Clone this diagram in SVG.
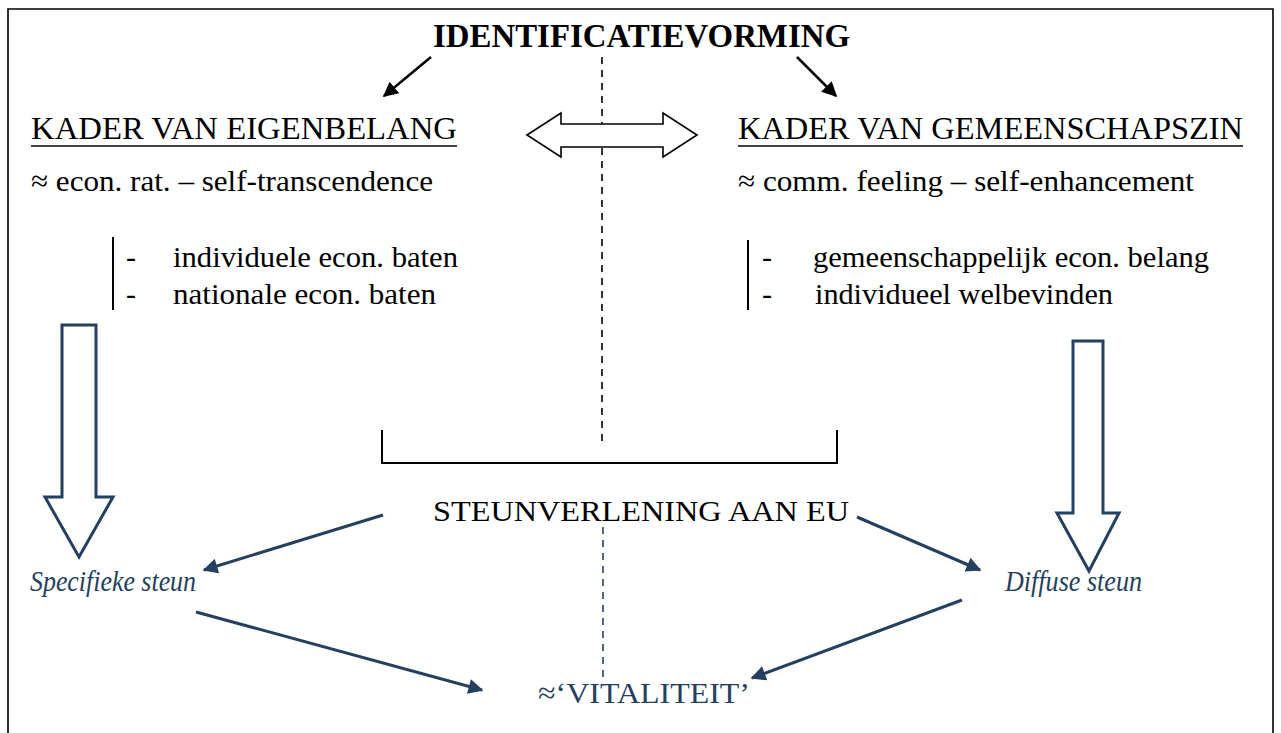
<svg xmlns="http://www.w3.org/2000/svg" width="1281" height="733" viewBox="0 0 1281 733" font-family="'Liberation Serif', 'DejaVu Serif', serif">
<defs>
<style>
text{font-family:"Liberation Serif","DejaVu Serif",serif;}
.t{font-size:30px;fill:#000;}
.h{font-size:32px;fill:#000;}
.b{font-size:33px;font-weight:bold;fill:#000;}
.blue{fill:#243F60;}
.it{font-style:italic;font-size:29px;fill:#243F60;}
.ul{stroke:#000;stroke-width:1.5;}
.bar{stroke:#000;stroke-width:2;}
.blk{stroke:#000;stroke-width:2.5;fill:none;}
.bl{stroke:#243F60;stroke-width:3;fill:none;}
.dash{stroke:#000;stroke-width:1.6;stroke-dasharray:7,6;fill:none;}
.dashb{stroke:#243F60;stroke-width:1.6;stroke-dasharray:7,6;fill:none;}
.block{fill:#fff;stroke:#243F60;stroke-width:3;stroke-linejoin:miter;}
.dbl{fill:#fff;stroke:#000;stroke-width:1.6;}
</style>
<marker id="ak" viewBox="0 0 10 10" refX="9" refY="5" markerWidth="6" markerHeight="6" markerUnits="strokeWidth" orient="auto">
<path d="M0,0 L10,5 L0,10 z" fill="#000"/>
</marker>
<marker id="ab" viewBox="0 0 10 10" refX="9" refY="5" markerWidth="5.5" markerHeight="5" markerUnits="strokeWidth" orient="auto">
<path d="M0,0 L10,5 L0,10 z" fill="#243F60"/>
</marker>
</defs>
<rect x="0" y="0" width="1281" height="733" fill="#fff"/>
<path d="M8,740 V9 H1273 V740" fill="none" stroke="#000" stroke-width="1.6"/>

<g id="connectors">
<line class="dash" x1="602" y1="57" x2="602" y2="443"/>
<line class="dashb" x1="603" y1="527" x2="603" y2="682"/>
<line class="blk" x1="431" y1="57" x2="384" y2="96" marker-end="url(#ak)"/>
<line class="blk" x1="797" y1="57" x2="836" y2="96" marker-end="url(#ak)"/>
<path d="M382,430 V463 H837 V430" fill="none" stroke="#000" stroke-width="2"/>
<line class="bl" x1="383" y1="515" x2="204" y2="570" marker-end="url(#ab)"/>
<line class="bl" x1="857" y1="517" x2="980" y2="570" marker-end="url(#ab)"/>
<line class="bl" x1="196" y1="612" x2="482" y2="690" marker-end="url(#ab)"/>
<line class="bl" x1="962" y1="600" x2="752" y2="678" marker-end="url(#ab)"/>
</g>

<g id="double-arrow">
<path class="dbl" d="M527,135 L561,113 V124 H663 V113 L697,135 L663,157 V147 H561 V157 Z"/>
</g>
<g id="block-arrow-left">
<path class="block" d="M62,325 H96 V497 H113 L79,557 L45,497 H62 Z"/>
</g>
<g id="block-arrow-right">
<path class="block" d="M1073,341 H1103 V513 H1119 L1089,571 L1057,513 H1073 Z"/>
</g>

<g id="title">
<text class="b" x="433" y="47" textLength="417" lengthAdjust="spacingAndGlyphs">IDENTIFICATIEVORMING</text>
</g>

<g id="kader-eigenbelang">
<text class="h" x="31" y="139" textLength="426" lengthAdjust="spacingAndGlyphs">KADER VAN EIGENBELANG</text>
<line class="ul" x1="31" y1="146" x2="457" y2="146"/>
<text class="t" x="31" y="191" textLength="402" lengthAdjust="spacingAndGlyphs">≈ econ. rat. – self-transcendence</text>
<line class="bar" x1="113" y1="237" x2="113" y2="310"/>
<text class="t" x="126" y="267">-</text>
<text class="t" x="173" y="267" textLength="285" lengthAdjust="spacingAndGlyphs">individuele econ. baten</text>
<text class="t" x="126" y="304">-</text>
<text class="t" x="173" y="304" textLength="263" lengthAdjust="spacingAndGlyphs">nationale econ. baten</text>
</g>

<g id="kader-gemeenschapszin">
<text class="h" x="738" y="139" textLength="505" lengthAdjust="spacingAndGlyphs">KADER VAN GEMEENSCHAPSZIN</text>
<line class="ul" x1="738" y1="146" x2="1243" y2="146"/>
<text class="t" x="738" y="191" textLength="456" lengthAdjust="spacingAndGlyphs">≈ comm. feeling – self-enhancement</text>
<line class="bar" x1="748" y1="240" x2="748" y2="310"/>
<text class="t" x="762" y="267">-</text>
<text class="t" x="813" y="267" textLength="396" lengthAdjust="spacingAndGlyphs">gemeenschappelijk econ. belang</text>
<text class="t" x="762" y="304">-</text>
<text class="t" x="815" y="304" textLength="298" lengthAdjust="spacingAndGlyphs">individueel welbevinden</text>
</g>

<g id="steunverlening">
<text class="t" x="433" y="521" textLength="416" lengthAdjust="spacingAndGlyphs">STEUNVERLENING AAN EU</text>
</g>
<g id="specifieke-steun">
<text class="it" x="30" y="591" textLength="166" lengthAdjust="spacingAndGlyphs">Specifieke steun</text>
</g>
<g id="diffuse-steun">
<text class="it" x="1005" y="591" textLength="137" lengthAdjust="spacingAndGlyphs">Diffuse steun</text>
</g>
<g id="vitaliteit">
<text class="t blue" x="538" y="703" textLength="212" lengthAdjust="spacingAndGlyphs">≈‘VITALITEIT’</text>
</g>
</svg>
